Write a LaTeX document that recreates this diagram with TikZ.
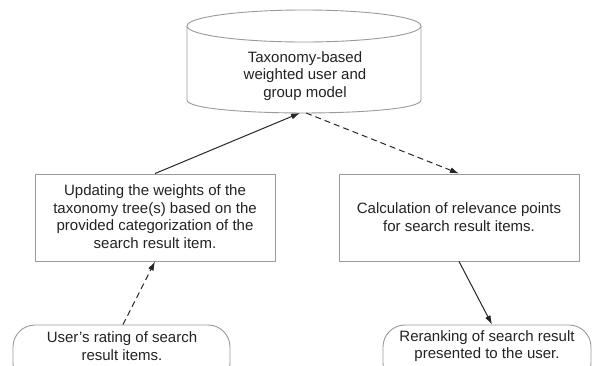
\documentclass[tikz,border=0pt]{standalone}
\usepackage{fontspec}
\setmainfont{Liberation Sans}
\usetikzlibrary{arrows.meta}
\definecolor{boxgray}{HTML}{9A9A9A}
\definecolor{txt}{HTML}{222222}
\tikzset{
  lbl/.style={align=center, inner sep=0pt, text=txt, font=\fontsize{15}{17.6}\selectfont},
  procbox/.style={draw=boxgray, line width=0.9pt, minimum width=240pt, minimum height=87pt, inner sep=0pt},
  termbox/.style={draw=boxgray, line width=0.9pt, rounded corners=22pt, minimum height=60pt, inner sep=0pt},
  arr/.style={-{Latex[length=9pt,width=6pt]}, line width=1pt, draw=black!85},
  darr/.style={arr, dash pattern=on 6pt off 4pt},
}
\begin{document}
\begin{tikzpicture}[x=1pt,y=-1pt]
\path[use as bounding box, clip] (0,0) rectangle (600,365);
% cylinder
\draw[boxgray, line width=0.9pt, fill=white] (187,26) -- (187,100) .. controls (187,117.3) and (421,117.3) .. (421,100) -- (421,26);
\draw[boxgray, line width=0.9pt] (304,26) ellipse [x radius=117, y radius=16];
\node[lbl] (cyl) at (305,76) {Taxonomy-based\\weighted user and\\group model};
\coordinate (cylin) at (300,113);
\coordinate (cylout) at (306,113);
% boxes
\node[procbox] (upd) at (155,217.5) {};
\node[lbl] (updtxt) at (155,216.5) {Updating the weights of the\\taxonomy tree(s) based on the\\provided categorization of the\\search result item.};
\node[procbox] (calc) at (459,217.5) {};
\node[lbl] (calctxt) at (459,217) {Calculation of relevance points\\for search result items.};
% terminators
\node[termbox, minimum width=217pt] (user) at (121.5,355) {};
\node[lbl] (usertxt) at (122,346) {User's rating of search\\result items.};
\node[termbox, minimum width=208pt] (rerank) at (487,355) {};
\node[lbl] (reranktxt) at (487,346) {Reranking of search result\\presented to the user.};
% connectors
\draw[arr] (upd.north) -- (cylin);
\draw[darr] (cylout) -- (calc.north);
\draw[darr] ([xshift=1.5pt]user.north) -- (upd.south);
\draw[arr] (calc.south) -- ([xshift=5pt]rerank.north);
\end{tikzpicture}
\end{document}
